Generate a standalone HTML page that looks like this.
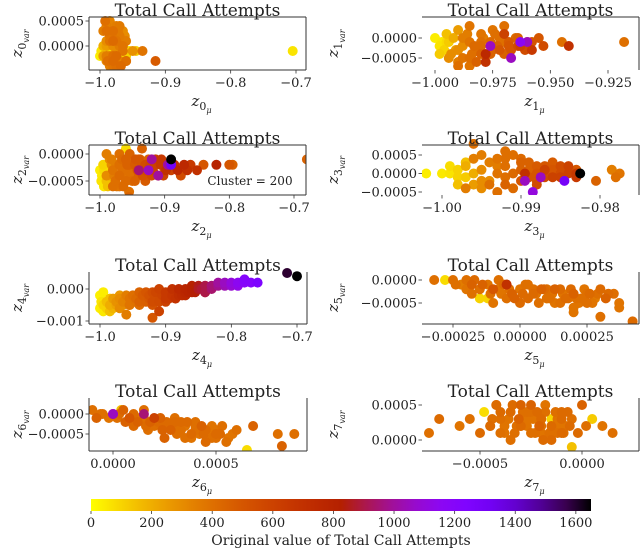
<!DOCTYPE html>
<html><head><meta charset="utf-8">
<style>
html,body{margin:0;padding:0;background:#fff;}
svg{display:block;font-family:"DejaVu Serif","Liberation Serif",serif;}
</style></head>
<body>
<svg id="fig" width="640" height="549" viewBox="0 0 640 549" xmlns="http://www.w3.org/2000/svg">
<defs>
<linearGradient id="cmap" x1="0" x2="1" y1="0" y2="0"></linearGradient>
</defs>
</svg>
<script>
// ---------- data ----------
const p0x=[-1.0,-0.998,-0.995,-0.99,-0.99,-0.99,-0.985,-0.985,-0.985,-0.98,-0.98,-0.98,-0.975,-0.975,-0.975,-0.97,-0.97,-0.97,-0.965,-0.965,-0.96,-0.96,-0.955,-0.95,-0.945,-0.935,-0.915,-0.705,-0.985,-0.975,-0.97,-0.99,-0.96,-0.98];
const p0y=[-2e-4,-1e-4,-2e-4,4e-4,1e-4,-3e-4,5e-4,2e-4,-4e-4,3e-4,0,-3e-4,4e-4,1e-4,-4e-4,2e-4,-1e-4,-3e-4,3e-4,0,1e-4,-2e-4,-1e-4,-1e-4,-1e-4,-1e-4,-3e-4,-1e-4,-1e-4,-1e-4,-1e-4,0,-3e-4,-2e-4];
const p0v=[40,60,250,350,300,320,330,380,350,400,300,420,350,380,400,360,90,330,300,380,350,100,80,280,120,380,480,60,80,70,60,250,350,400];
const p0xb=[-0.995,-0.99,-0.985,-0.98,-0.975,-0.97,-0.965,-0.96,-0.995,-0.99,-0.985,-0.98,-0.975,-0.97,-0.965,-0.992,-0.982,-0.972,-0.962,-0.988,-0.978,-0.968];
const p0yb=[3e-4,3e-4,1e-4,1e-4,-1e-4,0,-1e-4,-3e-4,0,-2e-4,-2e-4,-4e-4,-2e-4,4e-4,1e-4,5e-4,2e-4,3e-4,2e-4,-3e-4,-3e-4,-4e-4];
const p0vb=[350,400,380,420,300,350,380,400,200,350,320,380,420,360,340,400,380,350,300,400,380,420];

const p1x=[-1.0,-0.998,-0.995,-0.993,-0.99,-0.99,-0.988,-0.985,-0.985,-0.983,-0.98,-0.98,-0.978,-0.975,-0.975,-0.972,-0.97,-0.97,-0.968,-0.965,-0.963,-0.96,-0.958,-0.955,-0.953,-0.945,-0.942,-0.918,-0.995,-0.99,-0.985,-0.98,-0.976,-0.967,-0.963,-0.96,-0.978,-0.99,-0.97];
const p1y=[0,-2e-4,1e-4,-4e-4,2e-4,-6e-4,0,3e-4,-5e-4,-2e-4,1e-4,-4e-4,-6e-4,2e-4,-3e-4,0,-4e-4,1e-4,-2e-4,0,-2e-4,-1e-4,-3e-4,0,-2e-4,-1e-4,-2e-4,-1e-4,-1e-4,-7e-4,-7e-4,-1e-4,-2e-4,-5e-4,-1e-4,-1e-4,-4e-4,-3e-4,3e-4];
const p1v=[40,60,150,300,250,350,350,380,400,420,380,450,700,380,420,400,450,600,500,420,600,450,650,500,550,400,700,400,80,400,380,400,1050,1050,1150,1050,750,300,400];
const p1xb=[-0.997,-0.994,-0.991,-0.988,-0.985,-0.982,-0.979,-0.976,-0.973,-0.97,-0.967,-0.964,-0.961,-0.958,-0.996,-0.992,-0.988,-0.984,-0.98,-0.976,-0.972,-0.968,-0.964,-0.986,-0.982,-0.974,-0.998,-0.994];
const p1yb=[-1e-4,-1e-4,-3e-4,-2e-4,-1e-4,-3e-4,0,-1e-4,-2e-4,-1e-4,-3e-4,0,-3e-4,-1e-4,-3e-4,0,-5e-4,-4e-4,-2e-4,-4e-4,-3e-4,-1e-4,-2e-4,1e-4,-6e-4,1e-4,-4e-4,-5e-4];
const p1vb=[50,120,250,300,380,400,350,420,450,400,500,450,550,500,100,200,380,400,420,450,500,480,550,350,450,400,120,300];

const p2x=[-1.0,-0.998,-0.995,-0.99,-0.99,-0.985,-0.98,-0.98,-0.975,-0.97,-0.97,-0.965,-0.96,-0.96,-0.955,-0.955,-0.95,-0.945,-0.94,-0.935,-0.93,-0.925,-0.92,-0.915,-0.91,-0.905,-0.9,-0.895,-0.89,-0.885,-0.88,-0.875,-0.87,-0.865,-0.86,-0.85,-0.84,-0.82,-0.8,-0.795,-0.68,-0.96,-0.955,-0.935,-0.92,-0.91,-0.89,-0.89,-0.925,-0.94];
const p2y=[-3e-4,-5e-4,-2e-4,-4e-4,0,-1e-4,-3e-4,-6e-4,-2e-4,0,-4e-4,-3e-4,-1e-4,-5e-4,-8e-4,-2e-4,-3e-4,-1e-4,-4e-4,-2e-4,-3e-4,-1e-4,-3e-4,-2e-4,-4e-4,-1e-4,-3e-4,-2e-4,-3e-4,-2e-4,-3e-4,-4e-4,-2e-4,-3e-4,-2e-4,-3e-4,-2e-4,-2e-4,-2e-4,-2e-4,-1e-4,1e-4,-7e-4,1e-4,-1e-4,-4e-4,-1e-4,-2e-4,-3e-4,-3e-4];
const p2v=[40,60,100,300,350,300,380,400,350,400,420,400,450,420,450,450,400,500,450,500,550,450,500,600,550,650,500,1000,600,700,750,550,750,700,650,700,500,800,500,450,450,80,400,450,1000,1000,1650,1300,1050,950];
const p2xb=[-0.997,-0.994,-0.99,-0.986,-0.982,-0.978,-0.974,-0.97,-0.966,-0.962,-0.958,-0.954,-0.95,-0.946,-0.942,-0.938,-0.934,-0.93,-0.926,-0.922,-0.918,-0.914,-0.906,-0.902,-0.898,-0.994,-0.988,-0.982,-0.976,-0.97,-0.964,-0.958,-0.952,-0.946,-0.94,-0.93,-0.92];
const p2yb=[-4e-4,-3e-4,-5e-4,-4e-4,-2e-4,-4e-4,-6e-4,-2e-4,-1e-4,-3e-4,-4e-4,0,-5e-4,-2e-4,-3e-4,-1e-4,-4e-4,-2e-4,-4e-4,-2e-4,-3e-4,-1e-4,-2e-4,-4e-4,-3e-4,-6e-4,-6e-4,-1e-4,-5e-4,-6e-4,-6e-4,-2e-4,-4e-4,-5e-4,-1e-4,-5e-4,-4e-4];
const p2vb=[50,80,150,200,300,350,380,400,420,400,380,450,420,480,500,450,520,550,500,580,600,620,650,600,700,60,150,350,400,380,420,450,400,450,500,480,550];

const p3x=[-1.002,-1.0,-0.999,-0.998,-0.997,-0.996,-0.995,-0.995,-0.994,-0.993,-0.992,-0.992,-0.991,-0.99,-0.99,-0.989,-0.988,-0.988,-0.987,-0.986,-0.986,-0.985,-0.984,-0.983,-0.983,-0.9825,-0.9805,-0.9785,-0.978,-0.9775,-0.996,-0.993,-0.9895,-0.9885,-0.9875,-0.9845,-0.9895,-0.992,-0.997];
const p3y=[0,0,2e-4,-1e-4,3e-4,-3e-4,1e-4,5e-4,-2e-4,2e-4,-1e-4,4e-4,-4e-4,1e-4,-2e-4,3e-4,0,-3e-4,1e-4,0,-1e-4,2e-4,0,-1e-4,1e-4,0,-2e-4,1e-4,-1e-4,0,8e-4,-5e-4,-2e-4,-5e-4,-1e-4,-2e-4,0,6e-4,-4e-4];
const p3v=[40,50,80,100,150,250,300,350,300,350,400,400,420,450,500,450,500,550,600,500,600,550,600,650,500,1650,450,350,400,380,400,400,1050,1100,1050,1300,700,400,350];
const p3xb=[-0.999,-0.998,-0.997,-0.996,-0.995,-0.994,-0.993,-0.992,-0.991,-0.99,-0.989,-0.988,-0.987,-0.986,-0.985,-0.984,-0.983,-0.998,-0.996,-0.994,-0.992,-0.99,-0.988,-0.986,-0.984,-0.997,-0.993,-0.989,-0.985,-0.995,-0.991,-0.987];
const p3yb=[0,1e-4,-1e-4,0,-2e-4,3e-4,0,2e-4,0,3e-4,-1e-4,2e-4,-1e-4,1e-4,-1e-4,1e-4,0,-3e-4,4e-4,-3e-4,-3e-4,4e-4,-2e-4,3e-4,2e-4,2e-4,4e-4,1e-4,0,-4e-4,5e-4,2e-4];
const p3vb=[60,100,120,200,300,350,380,400,420,450,500,480,550,500,600,550,650,150,350,400,450,420,500,480,600,200,380,450,550,300,400,500];

const p4x=[-1.0,-0.998,-0.995,-0.99,-0.985,-0.98,-0.975,-0.97,-0.965,-0.96,-0.955,-0.95,-0.945,-0.94,-0.935,-0.93,-0.925,-0.92,-0.915,-0.91,-0.9,-0.89,-0.88,-0.87,-0.86,-0.85,-0.84,-0.83,-0.82,-0.81,-0.8,-0.79,-0.78,-0.77,-0.76,-0.715,-0.7,-0.995,-0.985,-0.97,-0.955,-0.94,-0.92,-0.91,-0.9,-0.88,-0.86,-0.84,-0.92,-0.96,-0.9,-0.87];
const p4y=[-6e-4,-4e-4,-5e-4,-4e-4,-5e-4,-3e-4,-4e-4,-3e-4,-4e-4,-2e-4,-3e-4,-2e-4,-3e-4,-1e-4,-2e-4,-1e-4,-2e-4,-1e-4,-1e-4,0,-1e-4,0,0,0,1e-4,1e-4,1e-4,1e-4,2e-4,2e-4,2e-4,2e-4,3e-4,2e-4,2e-4,5e-4,4e-4,-1e-4,-7e-4,-6e-4,-5e-4,-4e-4,-4e-4,-7e-4,-3e-4,-2e-4,-1e-4,-1e-4,-9e-4,-8e-4,-2e-4,-2e-4];
const p4v=[40,60,100,150,200,250,280,300,330,350,380,400,420,450,480,500,520,550,580,600,650,700,750,780,800,850,900,950,1000,1050,1100,1150,1200,1200,1250,1600,1650,40,150,300,380,450,550,600,650,720,800,850,500,350,620,750];
const p4xb=[-1.0,-0.995,-0.99,-0.985,-0.98,-0.975,-0.97,-0.965,-0.96,-0.955,-0.95,-0.945,-0.94,-0.935,-0.93,-0.925,-0.92,-0.915,-0.91,-0.905,-0.9,-0.895,-0.89,-0.885,-0.88,-0.875,-0.87,-0.865,-0.86,-0.855,-0.85,-0.845,-0.84,-0.83,-0.82,-0.81,-0.8,-0.79,-0.78];
const p4yb=[-2e-4,-7e-4,-6e-4,-3e-4,-6e-4,-5e-4,-2e-4,-5e-4,-4e-4,-5e-4,-4e-4,-4e-4,-5e-4,-3e-4,-4e-4,-3e-4,-5e-4,-3e-4,-4e-4,-2e-4,-4e-4,-3e-4,-2e-4,-3e-4,-1e-4,-2e-4,-1e-4,-1e-4,0,-1e-4,0,0,-1e-4,0,1e-4,1e-4,1e-4,1e-4,2e-4];
const p4vb=[30,50,100,150,180,230,260,290,320,340,370,390,410,440,460,490,510,540,560,590,610,640,670,690,720,740,770,790,810,830,860,880,900,940,980,1030,1080,1120,1180];

const p5x=[-0.00032,-0.00028,-0.00025,-0.00022,-0.0002,-0.00018,-0.00015,-0.00012,-0.0001,-0.00008,-0.00005,-0.00003,0,0.00002,0.00005,0.00008,0.0001,0.00012,0.00015,0.00018,0.0002,0.00022,0.00025,0.00028,0.0003,0.00035,0.00037,0.00042,-0.00015,-0.0001,-0.00005,0,0.00005,0.0001,0.00015,0.0002,0.00025,-0.00005,0.0001,0.0002,0.0003,0.00037];
const p5y=[0,0,0,-1e-4,0,-1e-4,-2e-4,-1e-4,-2e-4,0,-1e-4,-3e-4,-2e-4,-1e-4,-3e-4,-2e-4,-4e-4,-3e-4,-2e-4,-4e-4,-3e-4,-5e-4,-3e-4,-4e-4,-2e-4,-3e-4,-5e-4,-9e-4,-4e-4,-5e-4,-4e-4,-5e-4,-2e-4,-4e-4,-5e-4,-6e-4,-5e-4,-1e-4,-2e-4,-7e-4,-8e-4,-6e-4];
const p5v=[400,80,400,350,400,450,400,380,500,400,420,450,380,400,420,450,400,380,420,400,450,380,400,350,420,400,380,420,100,380,400,420,400,150,400,380,400,700,400,380,400,380];
const p5xb=[-0.00024,-0.0002,-0.00017,-0.00014,-0.00011,-0.00008,-0.00006,-0.00004,-0.00002,0.00001,0.00003,0.00006,0.00009,0.00011,0.00013,0.00016,0.00019,0.00021,0.00024,0.00026,0.00029,0.00032,-0.00018,-0.00012,-0.00007,0.00003,0.00007,0.00013,0.00017,0.00023,0.00027,0.00033];
const p5yb=[-1e-4,-2e-4,0,-1e-4,-3e-4,-2e-4,-1e-4,-2e-4,-4e-4,-3e-4,-1e-4,-3e-4,-2e-4,-4e-4,-2e-4,-3e-4,-2e-4,-4e-4,-2e-4,-3e-4,-3e-4,-4e-4,-3e-4,-4e-4,-3e-4,-4e-4,-5e-4,-5e-4,-4e-4,-4e-4,-5e-4,-3e-4];
const p5vb=[400,380,420,450,400,380,420,400,450,420,400,380,420,400,450,380,420,400,380,420,400,450,400,100,380,420,400,380,420,400,380,420];

const p6x=[-0.0001,-0.00008,-0.00005,0,0.00002,0.00005,0.00008,0.0001,0.00012,0.00015,0.00018,0.0002,0.00022,0.00025,0.00028,0.0003,0.00033,0.00035,0.00038,0.0004,0.00042,0.00045,0.00048,0.0005,0.00052,0.00055,0.00058,0.0006,0.00065,0.00068,0.0008,0.00082,0.00088,0.00004,0.00015,0.00025,0.00035,0.00045,0.0002,0.0003,0.0004,0,0.00015];
const p6y=[1e-4,-1e-4,0,0,-1e-4,1e-4,-1e-4,0,-2e-4,-1e-4,-2e-4,-3e-4,-2e-4,-3e-4,-4e-4,-2e-4,-4e-4,-3e-4,-5e-4,-3e-4,-5e-4,-4e-4,-6e-4,-4e-4,-5e-4,-7e-4,-5e-4,-4e-4,-9e-4,-3e-4,-5e-4,-8e-4,-5e-4,1e-4,1e-4,-6e-4,-6e-4,-7e-4,-1e-4,-1e-4,-2e-4,0,0];
const p6v=[400,450,400,1050,400,450,500,420,450,400,450,400,420,380,450,420,400,380,420,400,380,420,400,380,420,400,380,400,80,450,400,450,400,150,400,450,400,420,600,400,400,1000,950];
const p6xb=[-0.00006,-0.00002,0.00003,0.00006,0.0001,0.00013,0.00016,0.0002,0.00023,0.00026,0.0003,0.00032,0.00036,0.0004,0.00043,0.00047,0.0005,0.00053,0.00056,0.0001,0.00017,0.00024,0.00031,0.00038,0.00044,0.0005,0.00028,0.00033,0.00042,0.00048];
const p6yb=[0,-1e-4,0,-2e-4,-1e-4,-1e-4,-3e-4,-2e-4,-1e-4,-2e-4,-3e-4,-4e-4,-2e-4,-4e-4,-3e-4,-4e-4,-5e-4,-3e-4,-6e-4,-3e-4,-4e-4,-4e-4,-5e-4,-6e-4,-5e-4,-6e-4,-3e-4,-2e-4,-4e-4,-3e-4];
const p6vb=[400,380,420,450,400,380,420,400,450,420,400,380,420,400,450,380,420,400,380,420,400,450,400,380,420,400,380,420,400,380];

const p7x=[-0.00075,-0.0007,-0.0006,-0.00055,-0.0005,-0.00048,-0.00045,-0.00042,-0.0004,-0.00038,-0.00035,-0.00032,-0.0003,-0.00028,-0.00025,-0.00022,-0.0002,-0.00018,-0.00015,-0.00012,-0.0001,-0.00008,-0.00005,-0.00002,0,0.00002,0.00005,0.0001,0.00015,-0.00045,-0.0004,-0.0003,-0.0002,-0.0001,-0.0003,-0.0002,-0.0001,-0.00005,-0.00025,-0.00015];
const p7y=[1e-4,3e-4,2e-4,3e-4,1e-4,4e-4,2e-4,5e-4,3e-4,1e-4,4e-4,2e-4,5e-4,3e-4,1e-4,4e-4,2e-4,5e-4,3e-4,1e-4,4e-4,2e-4,3e-4,1e-4,5e-4,2e-4,3e-4,2e-4,1e-4,2e-4,1e-4,3e-4,3e-4,3e-4,2e-4,1e-4,1e-4,-1e-4,4e-4,0];
const p7v=[400,420,380,400,420,80,400,420,400,380,420,400,450,380,400,420,400,380,100,400,420,380,400,420,450,400,120,380,400,420,400,380,400,420,400,380,420,150,400,420];
const p7xb=[-0.00044,-0.0004,-0.00036,-0.00033,-0.0003,-0.00027,-0.00024,-0.00021,-0.00018,-0.00015,-0.00012,-0.00009,-0.00006,-0.00042,-0.00038,-0.00034,-0.00029,-0.00025,-0.0002,-0.00016,-0.00011,-0.00007,-0.00035,-0.00027,-0.00019,-0.00013,-0.00031,-0.00023];
const p7yb=[3e-4,4e-4,3e-4,1e-4,2e-4,4e-4,3e-4,2e-4,4e-4,2e-4,3e-4,1e-4,2e-4,5e-4,2e-4,5e-4,4e-4,5e-4,3e-4,1e-4,2e-4,4e-4,0,2e-4,0,4e-4,3e-4,1e-4];
const p7vb=[400,420,380,400,420,400,380,450,400,420,380,400,420,400,380,420,400,450,420,400,380,420,400,380,420,400,450,400];

// tick values and labels
const xTicksA=[-1.0,-0.9,-0.8,-0.7];
const xLabelsA=["\u22121.0","\u22120.9","\u22120.8","\u22120.7"];
const x1Ticks=[-1.0,-0.975,-0.95,-0.925];
const x1Labels=["\u22121.000","\u22120.975","\u22120.950","\u22120.925"];
const x3Ticks=[-1.0,-0.99,-0.98];
const x3Labels=["\u22121.00","\u22120.99","\u22120.98"];
const x5Ticks=[-2.5e-4,0,2.5e-4];
const x5Labels=["\u22120.00025","0.00000","0.00025"];
const x6Ticks=[0,5e-4];
const x6Labels=["0.0000","0.0005"];
const x7Ticks=[-5e-4,0];
const x7Labels=["\u22120.0005","0.0000"];
const y0Ticks=[5e-4,0];
const y0Labels=["0.0005","0.0000"];
const yZN=[0,-5e-4];
const yZNLabels=["0.0000","\u22120.0005"];
const y3Ticks=[5e-4,0,-5e-4];
const y3Labels=["0.0005","0.0000","\u22120.0005"];
const y4Ticks=[0,-0.001];
const y4Labels=["0.000","\u22120.001"];
const cbTicks=[0,200,400,600,800,1000,1200,1400,1600];
const cbMax=1650;

// ---------- rendering ----------
const NS="http://www.w3.org/2000/svg";
const svg=document.getElementById('fig');
function el(tag,attrs,parent){const e=document.createElementNS(NS,tag);for(const k in attrs)e.setAttribute(k,attrs[k]);(parent||svg).appendChild(e);return e;}
function cmap(v){
  let t=1-Math.max(0,Math.min(1,v/cbMax));
  const r=Math.sqrt(t),g=t*t*t,b=Math.max(0,Math.sin(2*Math.PI*t));
  return `rgb(${Math.round(r*255)},${Math.round(g*255)},${Math.round(b*255)})`;
}
function lin(a,pa,b,pb){return v=>pa+(v-a)*(pb-pa)/(b-a);}

const panels=[
 {i:0,l:89,t:17,r:306,b:70,xs:lin(-1.0,100,-0.7,296),ys:lin(0,46,5e-4,21),X:p0x.concat(p0xb),Y:p0y.concat(p0yb),V:p0v.concat(p0vb),xt:xTicksA,xl:xLabelsA,yt:y0Ticks,yl:y0Labels,sp:[1,1,1,1]},
 {i:1,l:422,t:17,r:639,b:70,xs:lin(-1.0,435,-0.925,608),ys:lin(0,38,-5e-4,58),X:p1x.concat(p1xb),Y:p1y.concat(p1yb),V:p1v.concat(p1vb),xt:x1Ticks,xl:x1Labels,yt:yZN,yl:yZNLabels,sp:[0,1,1,0]},
 {i:2,l:89,t:145,r:306,b:195,xs:lin(-1.0,100,-0.7,294),ys:lin(0,154,-5e-4,181),X:p2x.concat(p2xb),Y:p2y.concat(p2yb),V:p2v.concat(p2vb),xt:xTicksA,xl:xLabelsA,yt:yZN,yl:yZNLabels,sp:[1,1,1,1]},
 {i:3,l:422,t:145,r:639,b:195,xs:lin(-1.0,442,-0.98,600),ys:lin(5e-4,155,-5e-4,192),X:p3x.concat(p3xb),Y:p3y.concat(p3yb),V:p3v.concat(p3vb),xt:x3Ticks,xl:x3Labels,yt:y3Ticks,yl:y3Labels,sp:[0,1,1,0]},
 {i:4,l:89,t:272,r:307,b:324,xs:lin(-1.0,100,-0.7,297),ys:lin(0,289,-0.001,321),X:p4x.concat(p4xb),Y:p4y.concat(p4yb),V:p4v.concat(p4vb),xt:xTicksA,xl:xLabelsA,yt:y4Ticks,yl:y4Labels,sp:[1,0,1,1]},
 {i:5,l:422,t:272,r:639,b:324,xs:lin(-2.5e-4,453,2.5e-4,587),ys:lin(0,280,-5e-4,303),X:p5x.concat(p5xb),Y:p5y.concat(p5yb),V:p5v.concat(p5vb),xt:x5Ticks,xl:x5Labels,yt:yZN,yl:yZNLabels,sp:[0,0,1,1]},
 {i:6,l:89,t:398,r:307,b:451,xs:lin(0,113,5e-4,216),ys:lin(0,414,-5e-4,434),X:p6x.concat(p6xb),Y:p6y.concat(p6yb),V:p6v.concat(p6vb),xt:x6Ticks,xl:x6Labels,yt:yZN,yl:yZNLabels,sp:[1,0,1,1]},
 {i:7,l:422,t:398,r:639,b:451,xs:lin(-5e-4,480,0,582),ys:lin(5e-4,405,0,440),X:p7x.concat(p7xb),Y:p7y.concat(p7yb),V:p7v.concat(p7vb),xt:x7Ticks,xl:x7Labels,yt:y0Ticks,yl:y0Labels,sp:[0,0,1,1]}
];

panels.forEach(p=>{
  const g=el('g',{});
  
  
  const cx=(p.l+p.r)/2;
  const clipId='clip'+p.i;
  const cp=el('clipPath',{id:clipId},g);
  el('rect',{x:p.l,y:p.t-6,width:p.r-p.l,height:p.b-p.t+6},cp);
  const pts=el('g',{'clip-path':`url(#${clipId})`},g);
  
  
  const idx=p.X.map((_,k)=>k).sort((a,b)=>p.V[a]-p.V[b]);
  idx.forEach(k=>{
    const c=el('circle',{cx:p.xs(p.X[k]).toFixed(1),cy:p.ys(p.Y[k]).toFixed(1),r:5,fill:cmap(p.V[k])},pts);
    
    
  });
  const sc={stroke:'#333','stroke-width':1};
  if(p.sp[0])el('line',Object.assign({x1:p.l,y1:p.t,x2:p.l,y2:p.b},sc),g);
  if(p.sp[1])el('line',Object.assign({x1:p.l,y1:p.t,x2:p.r,y2:p.t},sc),g);
  if(p.sp[2])el('line',Object.assign({x1:p.r,y1:p.t,x2:p.r,y2:p.b},sc),g);
  if(p.sp[3])el('line',Object.assign({x1:p.l,y1:p.b,x2:p.r,y2:p.b},sc),g);
  p.xt.forEach((v,k)=>{
    const x=p.xs(v);
    el('line',{x1:x,y1:p.b,x2:x,y2:p.b+3.5,stroke:'#333','stroke-width':0.8},g);
    const t=el('text',{x:x,y:p.b+17,'font-size':13,'text-anchor':'middle',fill:'#222'},g);
    t.textContent=p.xl[k];
    
    
  });
  p.yt.forEach((v,k)=>{
    const y=p.ys(v);
    el('line',{x1:p.l-3.5,y1:y,x2:p.l,y2:y,stroke:'#333','stroke-width':0.8},g);
    const t=el('text',{x:p.l-5,y:y+4.5,'font-size':13,'text-anchor':'end',fill:'#222'},g);
    t.textContent=p.yl[k];
    
    
  });
  const tt=el('text',{x:cx,y:p.t-1,'font-size':17,'text-anchor':'middle',fill:'#222'},g);
  tt.textContent='Total Call Attempts';
  
  
  const xl=el('text',{x:cx-6,y:p.b+36,'font-size':15,'font-style':'italic',fill:'#222'},g);
  xl.innerHTML=`z<tspan dy="4" font-size="11" font-style="normal">${p.i}</tspan><tspan dy="3" font-size="8">μ</tspan>`;
  
  
  const ylx=p.i%2===0?22:338;
  const cy=(p.t+p.b)/2;
  const yl=el('text',{x:0,y:0,'font-size':15,'font-style':'italic',fill:'#222',transform:`translate(${ylx},${cy+14}) rotate(-90)`},g);
  yl.innerHTML=`z<tspan dy="4" font-size="11" font-style="normal">${p.i}</tspan><tspan dy="3" font-size="8">var</tspan>`;
  
  
  if(p.i===2){
    const a=el('text',{x:250,y:185,'font-size':12,'text-anchor':'middle',fill:'#222'},g);
    a.textContent='Cluster = 200';
    
    
  }
});

// colorbar
const grad=document.getElementById('cmap');
for(let s=0;s<=20;s++){el('stop',{offset:(s/20),'stop-color':cmap(s/20*cbMax)},grad);}
const cbL=91,cbR=591,cbT=499,cbB=511;
const cbs=lin(0,cbL,cbMax,cbR);
const cb=el('g',{});


el('rect',{x:cbL,y:cbT,width:cbR-cbL,height:cbB-cbT,fill:'url(#cmap)'},cb);
cbTicks.forEach(v=>{
  const x=cbs(v);
  el('line',{x1:x,y1:cbB,x2:x,y2:cbB+3,stroke:'#333','stroke-width':0.8},cb);
  const t=el('text',{x:x,y:cbB+16,'font-size':13,'text-anchor':'middle',fill:'#222'},cb);
  t.textContent=String(v);
  
  
});
const cbl=el('text',{x:(cbL+cbR)/2,y:545,'font-size':14,'text-anchor':'middle',fill:'#222'},cb);
cbl.textContent='Original value of Total Call Attempts';


</script>
</body></html>
